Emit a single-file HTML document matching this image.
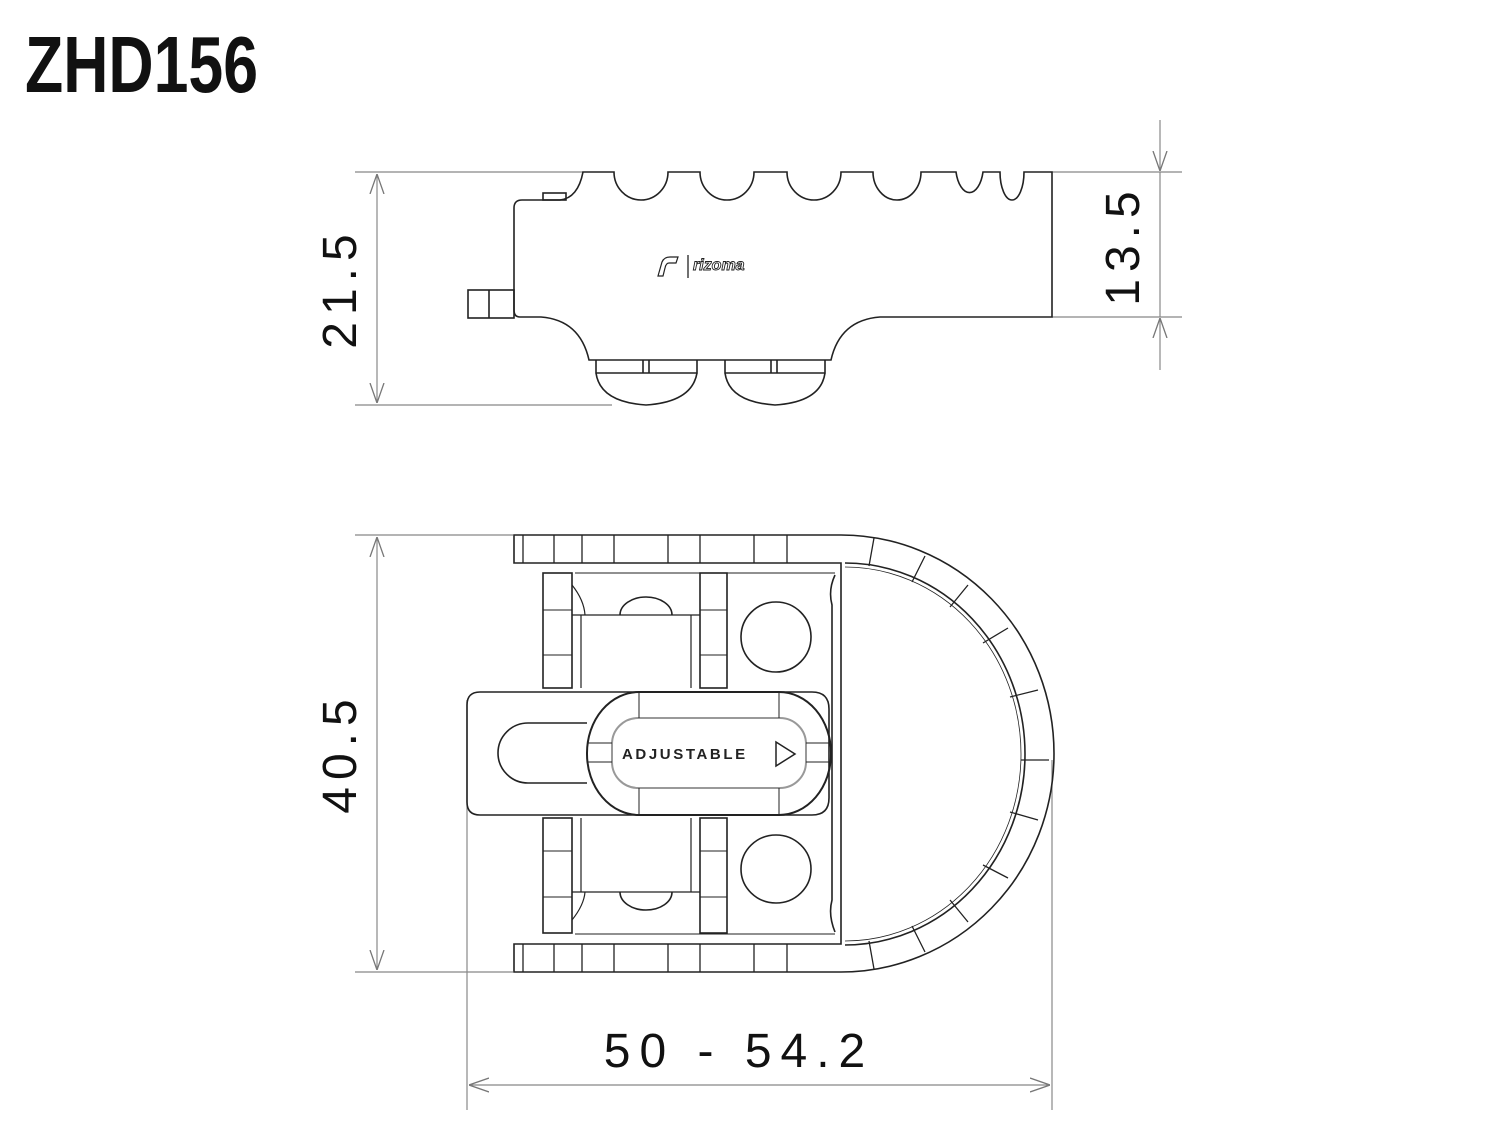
<!DOCTYPE html>
<html><head><meta charset="utf-8"><style>
html,body{margin:0;padding:0;background:#fff;width:1500px;height:1135px;overflow:hidden}
svg{display:block}
</style></head><body>
<svg width="1500" height="1135" viewBox="0 0 1500 1135" xmlns="http://www.w3.org/2000/svg">
<defs>
<marker id="a" viewBox="0 0 20 20" refX="20" refY="10" markerWidth="20" markerHeight="20" markerUnits="userSpaceOnUse" orient="auto-start-reverse">
<path d="M0,3 L20,10 L0,17" fill="none" stroke="#777" stroke-width="1.3"/>
</marker>
</defs>
<text x="25" y="92" font-family="'Liberation Sans Narrow','Liberation Sans',sans-serif" font-weight="bold" font-size="80" textLength="233" lengthAdjust="spacingAndGlyphs" fill="#111">ZHD156</text>

<g stroke="#888" stroke-width="1.2" fill="none">
<line x1="355" y1="172" x2="583" y2="172"/>
<line x1="355" y1="405" x2="612" y2="405"/>
<line x1="377" y1="174" x2="377" y2="403" marker-start="url(#a)" marker-end="url(#a)"/>
<line x1="1050" y1="172" x2="1182" y2="172"/>
<line x1="1052" y1="317" x2="1182" y2="317"/>
<line x1="1160" y1="120" x2="1160" y2="171" marker-end="url(#a)"/>
<line x1="1160" y1="370" x2="1160" y2="318" marker-end="url(#a)"/>
<line x1="1160" y1="172" x2="1160" y2="317"/>
<line x1="355" y1="535" x2="513" y2="535"/>
<line x1="355" y1="972" x2="513" y2="972"/>
<line x1="377" y1="537" x2="377" y2="970" marker-start="url(#a)" marker-end="url(#a)"/>
<line x1="467" y1="700" x2="467" y2="1110"/>
<line x1="1052" y1="760" x2="1052" y2="1110"/>
<line x1="469" y1="1085" x2="1050" y2="1085" marker-start="url(#a)" marker-end="url(#a)"/>
</g>
<g font-family="'Liberation Sans',sans-serif" font-size="48" fill="#111" letter-spacing="7">
<text transform="translate(356,288) rotate(-90)" text-anchor="middle">21.5</text>
<text transform="translate(1139,245) rotate(-90)" text-anchor="middle">13.5</text>
<text transform="translate(356,753) rotate(-90)" text-anchor="middle">40.5</text>
<text x="739" y="1067" text-anchor="middle" letter-spacing="9">50 - 54.2</text>
</g>

<g stroke="#222" stroke-width="1.6" fill="none">
<path d="M583,172 L614,172 A27,28 0 0 0 668,172 L700,172 A27,28 0 0 0 754,172 L787,172 A27,28 0 0 0 841,172 L873,172 A24,28 0 0 0 921,172 L956,172 A14,28 0 0 0 983,172 L1000,172 A12,28 0 0 0 1024,172 L1052,172 L1052,317 L880,317 Q840,320 831,360 L589,360 Q580,320 541,317 L520,317 Q514,317 514,310 L514,208 Q514,200 522,200 L560,200 Q578,198 583,172 Z"/>
<rect x="468" y="290" width="46" height="28"/>
<line x1="489" y1="290" x2="489" y2="318"/>
<rect x="543" y="193" width="23" height="7"/>
<path d="M596,360 L596,373 L697,373 L697,360 M596,373 Q600,402 646,405 Q692,402 697,373 M643,360 L643,373 M649,360 L649,373"/>
<path d="M725,360 L725,373 L825,373 L825,360 M725,373 Q729,402 775,405 Q821,402 825,373 M771,360 L771,373 M777,360 L777,373"/>
<path d="M658,276 L662,262 Q664,257 670,257 L678,257 L676,263 L669,263 Q666,263 665,268 L663,276 Z" stroke-width="1.2"/>
<line x1="688" y1="255" x2="688" y2="278" stroke-width="1.3"/>
</g>
<text x="693" y="270" font-family="'Liberation Sans',sans-serif" font-style="italic" font-weight="bold" font-size="16" fill="#fff" stroke="#222" stroke-width="0.9">rizoma</text>

<g stroke="#222" stroke-width="1.6" fill="none">
<path d="M514,535 L841,535 A213,218.5 0 0 1 841,972 L514,972 L514,944 L841,944 L841,563 L514,563 Z"/>
<path d="M845,563 A180,191 0 0 1 845,945"/>
<path d="M845,567 A176,187 0 0 1 845,941" stroke-width="0.8"/>
<path d="M835,575 Q828,590 832,605 L832,900 Q828,915 835,932" />
<line x1="575" y1="573" x2="835" y2="573" stroke-width="1"/>
<line x1="575" y1="934" x2="835" y2="934" stroke-width="1"/>
<g stroke-width="1.3">
<path d="M523,535V563M554,535V563M582,535V563M614,535V563M668,535V563M700,535V563M754,535V563M787,535V563"/>
<path d="M523,944V972M554,944V972M582,944V972M614,944V972M668,944V972M700,944V972M754,944V972M787,944V972"/>
</g>
<g stroke-width="1.3">
<path d="M874,538L869,566 M925,556L912,582 M968,585L950,607 M1008,628L983,643 M1038,690L1010,697 M1049,760L1021,760 M1038,820L1010,812 M1008,878L983,865 M968,922L950,900 M925,952L912,926 M874,969L869,941"/>
</g>
<rect x="543" y="573" width="29" height="115"/>
<rect x="700" y="573" width="27" height="115"/>
<rect x="543" y="818" width="29" height="115"/>
<rect x="700" y="818" width="27" height="115"/>
<path d="M543,610H572M543,655H572M700,610H727M700,655H727M543,851H572M543,897H572M700,851H727M700,897H727" stroke-width="1"/>
<path d="M572,615H700M581,615V688M691,615V688" stroke-width="1.2"/>
<path d="M572,892H700M581,818V892M691,818V892" stroke-width="1.2"/>
<path d="M620,615 A26,18 0 0 1 672,615"/>
<path d="M620,892 A26,18 0 0 0 672,892"/>
<path d="M572,585 Q584,600 585,615 M572,920 Q584,905 585,892" stroke-width="1.2"/>
<ellipse cx="776" cy="637" rx="35" ry="35"/>
<ellipse cx="776" cy="869" rx="35" ry="34"/>
<path d="M580,692 L480,692 Q467,692 467,705 L467,802 Q467,815 480,815 L812,815 Q829,815 829,798 L829,709 Q829,692 812,692 Z"/>
<path d="M587,723 L528,723 A30,30 0 0 0 528,783 L587,783"/>
<rect x="587" y="692" width="244" height="123" rx="52" ry="61" stroke-width="2"/>
<rect x="612" y="718" width="194" height="70" rx="26" ry="26" stroke="#999" stroke-width="2"/>
<path d="M639,692V718M779,692V718M639,788V815M779,788V815M587,743H612M587,762H612M806,743H831M806,762H831" stroke-width="1"/>
<path d="M776,742 L795,754 L776,766 Z" stroke-width="1.5"/>
</g>
<text x="622" y="759" font-family="'Liberation Sans',sans-serif" font-weight="bold" font-size="15" letter-spacing="2.6" fill="#222">ADJUSTABLE</text>
</svg>
</body></html>
